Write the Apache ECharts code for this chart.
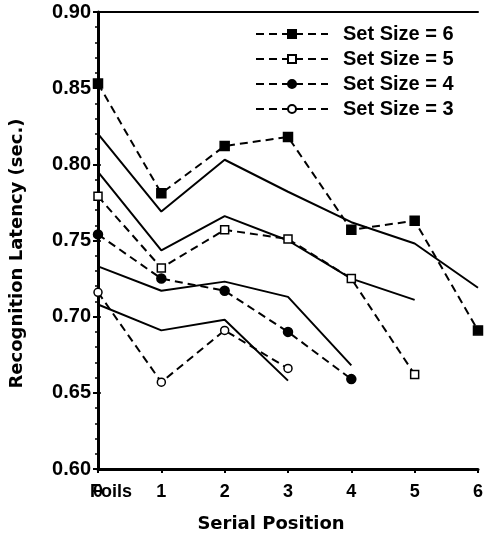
<!DOCTYPE html>
<html><head><meta charset="utf-8">
<script src="https://cdn.jsdelivr.net/npm/echarts@6/dist/echarts.min.js"></script>
<style>html,body{margin:0;padding:0;background:#fff}#c{width:486px;height:538px}</style>
</head><body><div id="c"></div>
<script>
const positions = [0, 1, 2, 3, 4, 5, 6];
const set6 = [0.853, 0.781, 0.812, 0.818, 0.757, 0.763, 0.691];
const set5 = [0.779, 0.732, 0.757, 0.751, 0.725, 0.662];
const set4 = [0.754, 0.725, 0.717, 0.690, 0.659];
const set3 = [0.716, 0.657, 0.691, 0.666];
const fit6 = [0.820, 0.769, 0.803, 0.782, 0.762, 0.748, 0.719];
const fit5 = [0.795, 0.7435, 0.766, 0.750, 0.725, 0.711];
const fit4 = [0.733, 0.717, 0.723, 0.713, 0.668];
const fit3 = [0.708, 0.691, 0.698, 0.658];
const legendNames = ['Set Size = 6', 'Set Size = 5', 'Set Size = 4', 'Set Size = 3'];

const pts = arr => arr.map((v, i) => [positions[i], v]);
const FONT = 'Liberation Sans, Arial, sans-serif';
const WIDE = 'DejaVu Sans, Liberation Sans, sans-serif';

function markerSeries(name, arr, symbol, filled, size) {
  return {
    name, type: 'line', data: pts(arr), symbol, symbolSize: size,
    itemStyle: { color: filled ? '#000' : '#fff', borderColor: '#000', borderWidth: 1.5 },
    lineStyle: { color: '#000', width: 2, type: [8, 5] },
    z: 3
  };
}
function fitSeries(name, arr) {
  return {
    name, type: 'line', data: pts(arr), symbol: 'none',
    lineStyle: { color: '#000', width: 2, type: 'solid' }, z: 2
  };
}

const chart = echarts.init(document.getElementById('c'));
chart.setOption({
  animation: false,
  backgroundColor: '#fff',
  grid: { left: 96, right: 4, top: 12, bottom: 66 },
  legend: {
    data: legendNames, orient: 'vertical', left: 250, top: 19,
    itemWidth: 72, itemHeight: 10, itemGap: 5,
    textStyle: { fontFamily: FONT, fontWeight: 'bold', fontSize: 20, color: '#000', padding: [0, 0, 0, 10] }
  },
  xAxis: [{
    type: 'value', min: 0, max: 6, interval: 1,
    name: 'Serial Position', nameLocation: 'middle', nameGap: 46,
    nameTextStyle: { fontFamily: WIDE, fontWeight: 'bold', fontSize: 18, color: '#000', padding: [0, 34, 0, 0] },
    axisLine: { onZero: false, lineStyle: { color: '#000', width: 3 } },
    axisTick: { show: true, length: 4, lineStyle: { color: '#000', width: 2 } },
    axisLabel: { fontFamily: FONT, fontWeight: 'bold', fontSize: 18, color: '#000', margin: 14 },
    splitLine: { show: false }
  }, {
    type: 'value', min: 0, max: 6, interval: 1, position: 'bottom',
    axisLine: { show: false }, axisTick: { show: false }, splitLine: { show: false },
    axisLabel: { fontFamily: FONT, fontWeight: 'bold', fontSize: 18, color: '#000', margin: 14,
      align: 'left', padding: [0, 0, 0, -8],
      formatter: v => v === 0 ? 'Foils' : '' }
  }, {
    type: 'value', min: 0, max: 6, position: 'top',
    axisLine: { show: true, lineStyle: { color: '#000', width: 2 } },
    axisTick: { show: false }, axisLabel: { show: false }, splitLine: { show: false }
  }],
  yAxis: [{
    type: 'value', min: 0.60, max: 0.90, interval: 0.05,
    name: 'Recognition Latency (sec.)', nameLocation: 'middle', nameGap: 72,
    nameTextStyle: { fontFamily: WIDE, fontWeight: 'bold', fontSize: 18, color: '#000', padding: [0, 26, 0, 0] },
    axisLine: { show: true, lineStyle: { color: '#000', width: 3 } },
    axisTick: { show: true, length: 5, lineStyle: { color: '#000', width: 2 } },
    minorTick: { show: true, splitNumber: 5, length: 3, lineStyle: { color: '#000', width: 1.5 } },
    axisLabel: { fontFamily: FONT, fontWeight: 'bold', fontSize: 20, color: '#000', margin: 7,
      formatter: v => v.toFixed(2) },
    splitLine: { show: false }
  }, {
    type: 'value', min: 0.60, max: 0.90, interval: 0.05, position: 'right',
    axisLine: { show: true, lineStyle: { color: '#000', width: 2 } },
    axisTick: { show: true, length: 3, lineStyle: { color: '#000', width: 1.5 } },
    minorTick: { show: true, splitNumber: 5, length: 2, lineStyle: { color: '#000', width: 1 } },
    axisLabel: { show: false }, splitLine: { show: false }
  }],
  series: [
    fitSeries('fit6', fit6), fitSeries('fit5', fit5), fitSeries('fit4', fit4), fitSeries('fit3', fit3),
    markerSeries(legendNames[0], set6, 'rect', true, 9),
    markerSeries(legendNames[1], set5, 'rect', false, 8),
    markerSeries(legendNames[2], set4, 'circle', true, 9),
    markerSeries(legendNames[3], set3, 'circle', false, 8)
  ]
});
</script></body></html>
